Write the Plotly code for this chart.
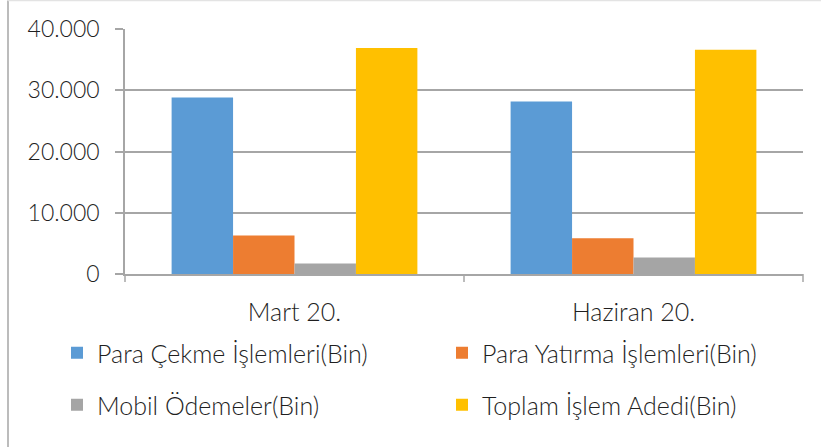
import plotly.graph_objects as go

categories = ["Mart 20.", "Haziran 20."]
series_names = ["Para Çekme İşlemleri(Bin)", "Para Yatırma İşlemleri(Bin)",
                "Mobil Ödemeler(Bin)", "Toplam İşlem Adedi(Bin)"]
para_cekme = [28800, 28150]
para_yatirma = [6300, 5850]
mobil_odemeler = [1700, 2700]
toplam_islem = [36900, 36600]
tick_vals = [0, 10000, 20000, 30000, 40000]
tick_text = ["0", "10.000", "20.000", "30.000", "40.000"]

colors = ["#5B9BD5", "#ED7D31", "#A5A5A5", "#FFC000"]
values = [para_cekme, para_yatirma, mobil_odemeler, toplam_islem]
legend_ids = ["legend", "legend2", "legend3", "legend4"]

FONT = "Lato"
TXT = "#1f1f1f"
GRID = "#A6A6A6"

fig = go.Figure()
for name, vals, col, lg in zip(series_names, values, colors, legend_ids):
    fig.add_trace(go.Bar(x=categories, y=vals, name=name, marker_color=col,
                         marker_line_width=0, legend=lg))

W, H = 821, 447
L, R, T, B = 125, 18, 29, 173
pw, ph = W - L - R, H - T - B

def px2x(px):
    return (px - L) / pw

def px2y(py):
    return (H - B - py) / ph

legend_font = dict(family=FONT, size=25, color=TXT, weight=300)
# legend positions (left x in px, center y in px)
legend_pos = [(57, 353), (442, 353), (57, 405), (442, 405)]
legend_layout = {}
for lg, (lx, ly) in zip(legend_ids, legend_pos):
    legend_layout[lg] = dict(orientation="h", x=px2x(lx), y=px2y(ly), xanchor="left",
                             yanchor="middle", font=legend_font, itemwidth=30,
                             bgcolor="rgba(0,0,0,0)")

fig.update_layout(
    width=W, height=H,
    margin=dict(l=L, r=R, t=T, b=B),
    paper_bgcolor="white", plot_bgcolor="white",
    barmode="group", bargap=0.275, bargroupgap=0,
    font=dict(family=FONT, size=25, color=TXT, weight=300),
    showlegend=True,
    xaxis=dict(showline=True, linecolor=GRID, linewidth=1.5,
               ticks="", showgrid=False,
               tickfont=dict(family=FONT, size=25, color=TXT, weight=300),
               ticklabelstandoff=15, fixedrange=True),
    yaxis=dict(range=[0, 40000], tickvals=tick_vals, ticktext=tick_text,
               showgrid=True, gridcolor=GRID, gridwidth=1.5,
               showline=True, linecolor=GRID, linewidth=1.5,
               ticks="outside", ticklen=8, tickcolor=GRID, tickwidth=1.5,
               tickfont=dict(family=FONT, size=23, color=TXT, weight=300),
               ticklabelstandoff=11, zeroline=False, fixedrange=True),
    shapes=[
        dict(type="line", xref="paper", yref="paper", x0=0, x1=0, y0=0, y1=px2y(282),
             line=dict(color=GRID, width=1.5)),
        dict(type="line", xref="paper", yref="paper", x0=0.5, x1=0.5, y0=0, y1=px2y(282),
             line=dict(color=GRID, width=1.5)),
        dict(type="line", xref="paper", yref="paper", x0=1, x1=1, y0=0, y1=px2y(282),
             line=dict(color=GRID, width=1.5)),
        dict(type="line", xref="paper", yref="paper", x0=px2x(8), x1=px2x(8), y0=px2y(0.5), y1=px2y(447),
             line=dict(color=GRID, width=1.5)),
        dict(type="line", xref="paper", yref="paper", x0=px2x(8), x1=px2x(821), y0=px2y(0.5), y1=px2y(0.5),
             line=dict(color="#E3E3E3", width=1.5)),
    ],
    **legend_layout,
)

fig.write_html("out.html", config={"displayModeBar": False},
               post_script="document.body.style.margin='0px';")
